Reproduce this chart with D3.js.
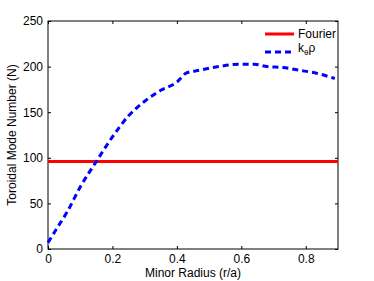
<!DOCTYPE html>
<html><head><meta charset="utf-8">
<script src="https://cdn.jsdelivr.net/npm/d3@7"></script>
<style>body{margin:0;background:#fff}svg{display:block}text{font-family:"Liberation Sans",Arial,sans-serif}</style>
</head><body><svg id="c" width="374" height="281"></svg>
<script>
const radius = [0,0.03,0.06,0.1,0.15,0.2,0.25,0.3,0.35,0.4,0.43,0.47,0.53,0.59,0.64,0.68,0.73,0.78,0.83,0.89];
const kthetaRho = [7,24,41,68,96,123,146,162,174,183,193,196,200,202.5,202.5,200,199,196,193,187];
const fourier = 96;
const xTicks = [0,0.2,0.4,0.6,0.8];
const yTicks = [0,50,100,150,200,250];

const svg = d3.select("#c");
const m = {l:48, r:338, t:21, b:249};
const x = d3.scaleLinear().domain([0,0.9]).range([m.l,m.r]);
const y = d3.scaleLinear().domain([0,250]).range([m.b,m.t]);

const g = svg.append("g");
// axes
const ax = g.append("g").attr("transform",`translate(0,${m.b})`).call(d3.axisBottom(x).tickValues(xTicks).tickSizeInner(-3).tickSizeOuter(0).tickPadding(5).tickFormat(d=>d===0?"0":d3.format(".1f")(d)));
const ay = g.append("g").attr("transform",`translate(${m.l},0)`).call(d3.axisLeft(y).tickValues(yTicks).tickSizeInner(-3).tickSizeOuter(0).tickPadding(5));
const axT = g.append("g").attr("transform",`translate(0,${m.t})`).call(d3.axisTop(x).tickValues(xTicks).tickSizeInner(-3).tickSizeOuter(0).tickFormat(""));
const ayR = g.append("g").attr("transform",`translate(${m.r},0)`).call(d3.axisRight(y).tickValues(yTicks).tickSizeInner(-3).tickSizeOuter(0).tickFormat(""));
[ax,ay,axT,ayR].forEach(a=>{a.select(".domain").remove();a.selectAll("line").attr("stroke","#000");a.selectAll("text").attr("font-size",12).attr("fill","#000").attr("font-family","Liberation Sans, Arial, sans-serif");});
g.append("rect").attr("x",m.l).attr("y",m.t).attr("width",m.r-m.l).attr("height",m.b-m.t).attr("fill","none").attr("stroke","#000").attr("stroke-width",1);

// lines
g.append("line").attr("x1",x(0)).attr("x2",x(0.9)).attr("y1",y(fourier)).attr("y2",y(fourier)).attr("stroke","#ff0000").attr("stroke-width",3);
const line = d3.line().x((d,i)=>x(radius[i])).y(d=>y(d)).curve(d3.curveMonotoneX);
g.append("path").attr("d",line(kthetaRho)).attr("fill","none").attr("stroke","#0000ff").attr("stroke-width",3).attr("stroke-dasharray","6,4");

// legend
g.append("line").attr("x1",265).attr("x2",294).attr("y1",34).attr("y2",34).attr("stroke","#ff0000").attr("stroke-width",3);
g.append("text").attr("x",298).attr("y",38).attr("font-size",12).text("Fourier");
g.append("line").attr("x1",265).attr("x2",294).attr("y1",52).attr("y2",52).attr("stroke","#0000ff").attr("stroke-width",3).attr("stroke-dasharray","6,4");
const t = g.append("text").attr("x",298).attr("y",52).attr("font-size",12);
t.append("tspan").text("k");
t.append("tspan").attr("font-size",8).attr("dy",3).text("θ");
t.append("tspan").attr("dy",-3).text("ρ");

// axis labels
g.append("text").attr("x",(m.l+m.r)/2).attr("y",277).attr("text-anchor","middle").attr("font-size",12).text("Minor Radius (r/a)");
g.append("text").attr("transform",`translate(16,${(m.t+m.b)/2}) rotate(-90)`).attr("text-anchor","middle").attr("font-size",12).text("Toroidal Mode Number (N)");
</script></body></html>
